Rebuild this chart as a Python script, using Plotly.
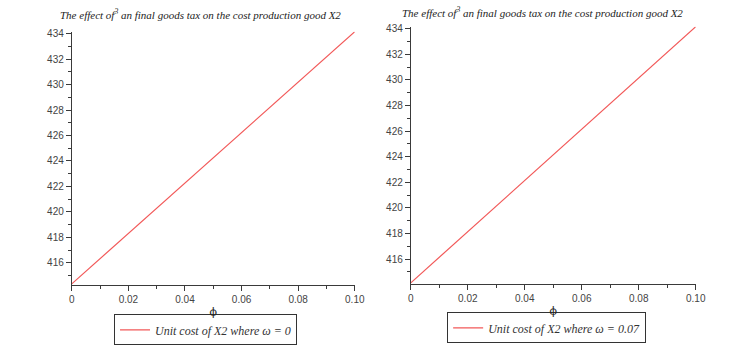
import plotly.graph_objects as go

# Data
phi_values = [0.0, 0.10]
cost_w0 = [414.35, 434.15]
cost_w007 = [414.15, 434.15]
x_tick_vals = [0, 0.02, 0.04, 0.06, 0.08, 0.10]
x_tick_text = ["0", "0.02", "0.04", "0.06", "0.08", "0.10"]
y_tick_vals = [416, 418, 420, 422, 424, 426, 428, 430, 432, 434]
series_names = ["Unit cost of X2 where \u03c9 = 0", "Unit cost of X2 where \u03c9 = 0.07"]
title_text = "The effect of<sup>3</sup> an final goods tax on the cost production good X2"

W, H = 748, 351
line_color = "rgb(242,88,88)"
axis_color = "#3a3a3a"
tick_font = dict(family="Liberation Sans", size=10, color="#444444")

fig = go.Figure()
fig.add_trace(go.Scatter(x=phi_values, y=cost_w0, mode="lines", name=series_names[0],
                         line=dict(color=line_color, width=1.2), xaxis="x", yaxis="y", legend="legend"))
fig.add_trace(go.Scatter(x=phi_values, y=cost_w007, mode="lines", name=series_names[1],
                         line=dict(color=line_color, width=1.2), xaxis="x2", yaxis="y2", legend="legend2"))

def xax(domain, anchor):
    return dict(domain=domain, anchor=anchor, range=[0, 0.10], tickvals=x_tick_vals, ticktext=x_tick_text,
                showgrid=False, zeroline=False, showline=True, linecolor=axis_color, linewidth=1,
                ticks="outside", ticklen=5, tickcolor=axis_color, tickfont=tick_font,
                minor=dict(dtick=0.01, ticks="outside", ticklen=3, tickcolor=axis_color),
                title=dict(text="\u03d5", font=dict(family="DejaVu Serif", size=11, color="#222"), standoff=4))

def yax(domain, anchor, rng):
    return dict(domain=domain, anchor=anchor, range=rng, tickvals=y_tick_vals,
                showgrid=False, zeroline=False, showline=True, linecolor=axis_color, linewidth=1,
                ticks="outside", ticklen=5, tickcolor=axis_color, tickfont=tick_font,
                minor=dict(dtick=1, tick0=416, ticks="outside", ticklen=3, tickcolor=axis_color))

legend_font = dict(family="Liberation Serif", size=12, color="#333")
fig.update_layout(
    width=W, height=H, margin=dict(l=0, r=0, t=0, b=0),
    paper_bgcolor="white", plot_bgcolor="white",
    xaxis=xax([70 / W, 358 / W], "y"),
    yaxis=yax([1 - 284 / H, 1 - 28 / H], "x", [414.28, 434.15]),
    xaxis2=xax([415 / W, 705 / W], "y2"),
    yaxis2=yax([1 - 283 / H, 1 - 23 / H], "x2", [414.08, 434.15]),
    legend=dict(x=113 / W, y=1 - 314 / H, xanchor="left", yanchor="top", bordercolor="#333", borderwidth=1,
                bgcolor="white", font=legend_font, itemwidth=30, tracegroupgap=0),
    legend2=dict(x=452 / W, y=1 - 312 / H, xanchor="left", yanchor="top", bordercolor="#333", borderwidth=1,
                 bgcolor="white", font=legend_font, itemwidth=30, tracegroupgap=0),
    showlegend=True,
    annotations=[
        dict(text="<i>" + title_text + "</i>", x=(60 + 343) / 2 / W, y=1 - 10 / H, xref="paper", yref="paper",
             showarrow=False, font=dict(family="Liberation Serif", size=11, color="#222"), xanchor="center", yanchor="middle"),
        dict(text="<i>" + title_text + "</i>", x=(406 + 693) / 2 / W, y=1 - 8 / H, xref="paper", yref="paper",
             showarrow=False, font=dict(family="Liberation Serif", size=11, color="#222"), xanchor="center", yanchor="middle"),
    ],
)
for tr in fig.data:
    tr.name = "<i>" + tr.name + "</i>"

fig.write_html("out.html")
